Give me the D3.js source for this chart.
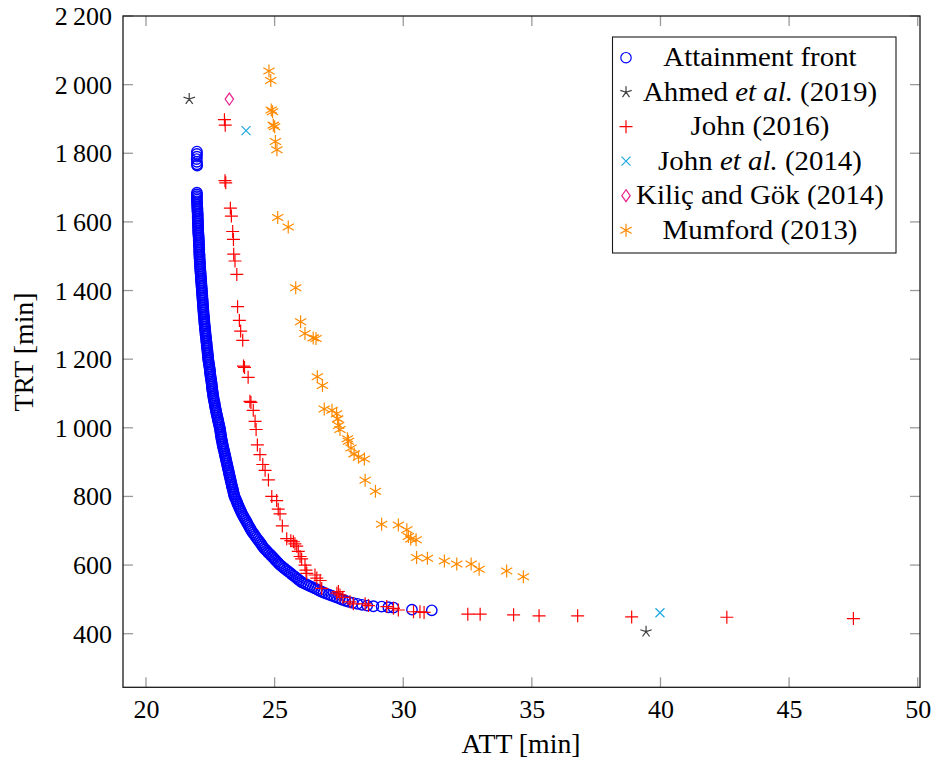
<!DOCTYPE html>
<html>
<head>
<meta charset="utf-8">
<script src="https://cdn.jsdelivr.net/npm/d3@7"></script>
<style>
  html, body { margin: 0; padding: 0; background: #fff; }
  svg { display: block; }
</style>
</head>
<body>
<svg id="chart" width="933" height="762"></svg>
<script>
// Attainment front (ATT, TRT) in minutes
const frontPoints = [
  [21.98,1805],[21.98,1798],[21.98,1790],[21.97,1783],[21.98,1775],[21.98,1768],[21.99,1764],
  [21.98,1685],[21.98,1680],[21.98,1675],[21.98,1670],[21.98,1665],[21.98,1660],[21.99,1655],
  [21.99,1650],[21.99,1645],[22.00,1640],[22.00,1635],[22.00,1630],[22.01,1625],[22.01,1620],
  [22.01,1615],[22.01,1610],[22.02,1605],[22.02,1600],[22.02,1595],[22.02,1590],[22.03,1585],
  [22.03,1580],[22.03,1575],[22.03,1570],[22.04,1565],[22.04,1560],[22.05,1555],[22.05,1550],
  [22.05,1545],[22.06,1540],[22.06,1535],[22.06,1530],[22.07,1525],[22.07,1520],[22.07,1515],
  [22.07,1510],[22.08,1505],[22.08,1500],[22.08,1495],[22.09,1490],[22.09,1485],[22.10,1480],
  [22.10,1475],[22.10,1470],[22.11,1465],[22.11,1460],[22.12,1455],[22.12,1450],[22.13,1445],
  [22.13,1440],[22.14,1435],[22.14,1430],[22.15,1425],[22.15,1420],[22.16,1415],[22.16,1410],
  [22.17,1405],[22.17,1400],[22.18,1395],[22.18,1390],[22.19,1385],[22.19,1380],[22.20,1375],
  [22.20,1370],[22.21,1365],[22.21,1360],[22.22,1355],[22.22,1350],[22.23,1345],[22.23,1340],
  [22.24,1335],[22.24,1330],[22.25,1325],[22.26,1320],[22.26,1315],[22.27,1310],[22.27,1305],
  [22.28,1300],[22.29,1295],[22.29,1290],[22.30,1285],[22.31,1280],[22.31,1275],[22.32,1270],
  [22.33,1265],[22.34,1260],[22.34,1255],[22.35,1250],[22.36,1245],[22.36,1240],[22.37,1235],
  [22.38,1230],[22.39,1225],[22.39,1220],[22.40,1215],[22.41,1210],[22.41,1205],[22.42,1200],
  [22.43,1195],[22.44,1190],[22.45,1185],[22.46,1180],[22.47,1175],[22.48,1170],[22.49,1165],
  [22.49,1160],[22.50,1155],[22.51,1150],[22.52,1145],[22.53,1140],[22.54,1135],[22.55,1130],
  [22.56,1125],[22.56,1120],[22.57,1115],[22.58,1110],[22.59,1105],[22.60,1100],[22.61,1095],
  [22.62,1090],[22.63,1085],[22.64,1080],[22.66,1075],[22.67,1070],[22.68,1065],[22.69,1060],
  [22.71,1055],[22.72,1050],[22.73,1045],[22.75,1040],[22.76,1035],[22.78,1030],[22.79,1025],
  [22.81,1020],[22.82,1015],[22.84,1010],[22.85,1005],[22.87,1000],[22.88,995],[22.89,990],
  [22.90,985],[22.91,980],[22.92,975],[22.93,970],[22.94,965],[22.96,960],[22.97,955],
  [22.98,950],[23.00,945],[23.01,940],[23.03,935],[23.04,930],[23.06,925],[23.07,920],
  [23.09,915],[23.10,910],[23.12,905],[23.13,900],[23.15,895],[23.16,890],[23.18,885],
  [23.19,880],[23.21,875],[23.22,870],[23.24,865],[23.25,860],[23.27,855],[23.28,850],
  [23.30,845],[23.31,840],[23.33,835],[23.34,830],[23.36,825],[23.38,820],[23.39,815],
  [23.41,810],[23.42,805],[23.44,800],[23.47,795],[23.50,790],[23.53,785],[23.55,780],
  [23.58,775],[23.61,770],[23.64,765],[23.67,760],[23.70,755],[23.73,750],[23.77,745],
  [23.80,740],[23.84,735],[23.88,730],[23.92,725],[23.95,720],[23.99,715],[24.03,710],
  [24.06,705],[24.10,700],[24.15,695],[24.20,690],[24.24,685],[24.29,680],[24.34,675],
  [24.39,670],[24.44,665],[24.49,660],[24.53,655],[24.58,650],[24.63,646],[24.68,642],
  [24.73,638],[24.78,634],[24.84,630],[24.89,626],[24.94,622],[24.99,618],[25.04,614],
  [25.09,610],[25.14,606],[25.19,602],[25.25,598],[25.32,594],[25.38,590],[25.45,586],
  [25.52,582],[25.59,578],[25.65,574],[25.72,570],[25.79,566],[25.86,562],[25.92,558],
  [25.99,554],[26.06,550],[26.14,547],[26.23,544],[26.31,541],[26.39,538],[26.48,535],
  [26.56,532],[26.65,529],[26.73,526],[26.81,523],[26.90,520],[27.00,517],[27.11,514],
  [27.21,511],[27.32,508],[27.42,505],[27.53,502],[27.63,499],[27.75,496],[27.88,493],
  [28.04,490],[28.22,487],[28.40,484],[28.60,482],[28.84,480],[29.16,479],[29.42,477],
  [29.62,476],[30.34,470],[31.11,468]
];

// Ahmed et al. (2019)
const ahmedPoints = [[21.68,1958],[39.44,406]];

// John (2016)
const john2016Points = [
  [23.05,1898],[23.08,1882],[23.07,1720],[23.10,1714],[23.28,1640],[23.32,1617],[23.37,1572],
  [23.40,1549],[23.41,1506],[23.46,1486],[23.53,1447],[23.56,1353],[23.63,1313],[23.68,1282],
  [23.76,1255],[23.79,1180],[23.83,1176],[23.97,1147],[24.04,1077],[24.08,1074],[24.17,1051],
  [24.24,1019],[24.28,995],[24.33,950],[24.43,922],[24.54,893],[24.63,876],[24.76,848],
  [24.89,800],[25.08,788],[25.14,763],[25.21,749],[25.30,714],[25.47,677],[25.63,671],
  [25.73,668],[25.79,662],[25.86,655],[25.92,640],[25.99,625],[26.05,618],[26.18,600],
  [26.22,585],[26.25,576],[26.57,571],[26.64,562],[26.77,555],[26.83,532],[27.42,518],
  [27.48,523],[27.54,513],[27.65,506],[27.93,493],[28.06,487],[28.52,487],[28.65,482],
  [29.36,479],[29.62,474],[29.81,469],[30.40,464],[30.65,464],[30.81,462],[32.51,457],
  [32.99,457],[34.29,455],[35.28,452],[36.78,452],[38.88,449],[42.58,448],[47.50,444]
];

// John et al. (2014)
const john2014Points = [[23.89,1866],[39.98,461]];

// Kiliç and Gök (2014)
const kilicPoints = [[23.24,1958]];

// Mumford (2013)
const mumfordPoints = [
  [24.78,2040],[24.85,2012],[24.87,1926],[24.92,1921],[24.95,1882],[25.00,1877],[25.03,1834],
  [25.09,1810],[25.12,1613],[25.53,1585],[25.82,1408],[26.01,1309],[26.18,1275],[26.50,1262],
  [26.61,1260],[26.66,1149],[26.86,1123],[26.93,1055],[27.23,1051],[27.41,1041],[27.45,1026],
  [27.49,1007],[27.54,995],[27.83,968],[27.87,961],[27.97,941],[28.09,924],[28.26,914],
  [28.49,909],[28.52,847],[28.92,815],[29.16,719],[29.81,717],[30.14,703],[30.20,683],
  [30.29,676],[30.50,674],[30.52,622],[30.94,620],[31.60,612],[32.08,603],[32.64,603],
  [32.95,588],[34.02,583],[34.67,566]
];

const xTicks = [20, 25, 30, 35, 40, 45, 50];
const yTicks = [400, 600, 800, 1000, 1200, 1400, 1600, 1800, 2000, 2200];
const xTitle = "ATT [min]";
const yTitle = "TRT [min]";

// Legend entries: label parts (italic flags) and marker style
const legendEntries = [
  { parts: [["Attainment front", false]], mark: "circle", color: "#0000ff" },
  { parts: [["Ahmed ", false], ["et al.", true], [" (2019)", false]], mark: "star", color: "#404040" },
  { parts: [["John (2016)", false]], mark: "plus", color: "#ff0000" },
  { parts: [["John ", false], ["et al.", true], [" (2014)", false]], mark: "cross", color: "#1ea7e1" },
  { parts: [["Kiliç and Gök (2014)", false]], mark: "diamond", color: "#e8228c" },
  { parts: [["Mumford (2013)", false]], mark: "asterisk", color: "#ff8a00" }
];

const series = [
  { data: frontPoints, entry: legendEntries[0] },
  { data: ahmedPoints, entry: legendEntries[1] },
  { data: john2016Points, entry: legendEntries[2] },
  { data: john2014Points, entry: legendEntries[3] },
  { data: kilicPoints, entry: legendEntries[4] },
  { data: mumfordPoints, entry: legendEntries[5] }
];

const FONT = "Liberation Serif";

// Marker outlines, centred on the origin
function markPath(kind) {
  const p = d3.path();
  if (kind === "circle") {
    p.moveTo(5.2, 0); p.arc(0, 0, 5.2, 0, 2 * Math.PI);
  } else if (kind === "plus") {
    const s = 6.5;
    p.moveTo(-s, 0); p.lineTo(s, 0); p.moveTo(0, -s); p.lineTo(0, s);
  } else if (kind === "cross") {
    const s = 4.5;
    p.moveTo(-s, -s); p.lineTo(s, s); p.moveTo(-s, s); p.lineTo(s, -s);
  } else if (kind === "star") {
    const s = 6;
    for (let k = 0; k < 5; k++) {
      const a = -Math.PI / 2 + k * 2 * Math.PI / 5;
      p.moveTo(0, 0); p.lineTo(s * Math.cos(a), s * Math.sin(a));
    }
  } else if (kind === "asterisk") {
    const s = 6.5;
    for (let k = 0; k < 3; k++) {
      const a = -Math.PI / 2 + k * Math.PI / 3;
      p.moveTo(-s * Math.cos(a), -s * Math.sin(a)); p.lineTo(s * Math.cos(a), s * Math.sin(a));
    }
  } else if (kind === "diamond") {
    const h = 6, w = 4.2;
    p.moveTo(0, -h); p.lineTo(w, 0); p.lineTo(0, h); p.lineTo(-w, 0); p.closePath();
  }
  return p.toString();
}

const svg = d3.select("#chart");
svg.append("rect").attr("width", 933).attr("height", 762).attr("fill", "#fff");

const plot = { left: 123, right: 920, top: 16, bottom: 687.3 };
const x = d3.scaleLinear().domain([19.106, 50.089]).range([plot.left, plot.right]);
const y = d3.scaleLinear().domain([243.8, 2200]).range([plot.bottom, plot.top]);

const fmtY = v => v >= 1000 ? Math.floor(v / 1000) + "\u2009" + String(v % 1000).padStart(3, "0") : String(v);

// Tick marks (inward on all four sides)
const tickLen = 10;
const ticksG = svg.append("g").attr("stroke", "#9a9a9a").attr("stroke-width", 1.3);
xTicks.forEach(t => {
  ticksG.append("line").attr("x1", x(t)).attr("x2", x(t)).attr("y1", plot.bottom).attr("y2", plot.bottom - tickLen);
  ticksG.append("line").attr("x1", x(t)).attr("x2", x(t)).attr("y1", plot.top).attr("y2", plot.top + tickLen);
});
yTicks.forEach(t => {
  ticksG.append("line").attr("x1", plot.left).attr("x2", plot.left + tickLen).attr("y1", y(t)).attr("y2", y(t));
  ticksG.append("line").attr("x1", plot.right).attr("x2", plot.right - tickLen).attr("y1", y(t)).attr("y2", y(t));
});

function styleText(sel, size) {
  sel.attr("font-family", FONT).attr("font-size", size).attr("fill", "#000");
}

// Axes with labels via d3 axis generators (tick lines drawn above)
const xAxis = d3.axisBottom(x).tickValues(xTicks).tickSize(0).tickPadding(0).tickFormat(d3.format("d"));
const xg = svg.append("g").attr("transform", `translate(0,${plot.bottom})`).call(xAxis);
xg.attr("font-family", FONT).attr("font-size", 26);
xg.select(".domain").remove();
xg.selectAll("text").call(styleText, 26).attr("dy", null).attr("y", 31);

const yAxis = d3.axisLeft(y).tickValues(yTicks).tickSize(0).tickPadding(0).tickFormat(fmtY);
const yg = svg.append("g").attr("transform", `translate(${plot.left},0)`).call(yAxis);
yg.attr("font-family", FONT).attr("font-size", 26);
yg.select(".domain").remove();
yg.selectAll("text").call(styleText, 26).attr("dy", null).attr("x", -11).attr("y", 8.5);

// Data marks
const marksG = svg.append("g");
series.forEach(s => {
  marksG.append("g")
    .selectAll("path")
    .data(s.data)
    .join("path")
    .attr("d", markPath(s.entry.mark))
    .attr("transform", d => `translate(${x(d[0])},${y(d[1])})`)
    .attr("fill", "none")
    .attr("stroke", s.entry.color)
    .attr("stroke-width", s.entry.mark === "circle" ? 1.4 : 1.2);
});

// Plot frame
svg.append("rect")
  .attr("x", plot.left).attr("y", plot.top)
  .attr("width", plot.right - plot.left).attr("height", plot.bottom - plot.top)
  .attr("fill", "none").attr("stroke", "#1a1a1a").attr("stroke-width", 1.3);

// Axis titles
svg.append("text").attr("transform", `translate(${(plot.left + plot.right) / 2 - 0.5},753) scale(1.03,1)`)
  .attr("text-anchor", "middle").call(styleText, 27).text(xTitle);
svg.append("text").attr("transform", "translate(33,352) rotate(-90) scale(1.03,1)")
  .attr("text-anchor", "middle").call(styleText, 27).text(yTitle);

// Legend
const lg = svg.append("g");
lg.append("rect").attr("x", 612.5).attr("y", 37).attr("width", 283.5).attr("height", 216)
  .attr("fill", "#fff").attr("stroke", "#1a1a1a").attr("stroke-width", 1.1);
legendEntries.forEach((e, i) => {
  const cy = 57.7 + i * 34.5;
  lg.append("path").attr("d", markPath(e.mark)).attr("transform", `translate(626,${cy})`)
    .attr("fill", "none").attr("stroke", e.color).attr("stroke-width", 1.2);
  const t = lg.append("text").attr("transform", `translate(760,${cy + 8.5}) scale(1.07,1)`)
    .attr("text-anchor", "middle").call(styleText, 27);
  e.parts.forEach(([str, it]) => {
    t.append("tspan").attr("font-style", it ? "italic" : "normal").text(str);
  });
});
</script>
</body>
</html>
